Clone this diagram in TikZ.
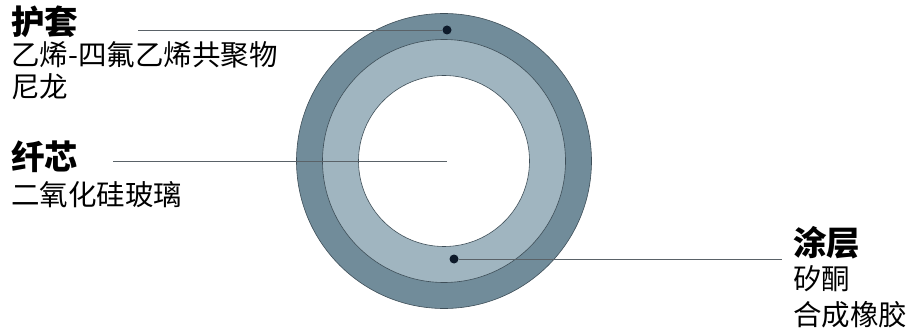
\documentclass[tikz,border=0pt]{standalone}
\usepackage{fontspec}
\newfontfamily\cjk{Noto Sans CJK SC}
\usepackage{xcolor}
\usepackage{tikz}
\usetikzlibrary{positioning}

\definecolor{jacketblue}{HTML}{718C9A}
\definecolor{coatblue}{HTML}{A0B5C0}
\definecolor{ringedge}{HTML}{3E4E58}
\definecolor{leadergrey}{HTML}{5A6268}
\definecolor{dotnavy}{HTML}{0E1A2A}

\begin{document}
\begin{tikzpicture}[
    x=1pt, y=-1pt,
    ring/.style={circle, draw=ringedge, line width=0.6pt, inner sep=0pt},
    title/.style={font=\cjk\bfseries\fontsize{33.5}{33.5}\selectfont, inner sep=0pt, anchor=base west},
    material/.style={font=\cjk\fontsize{28.5}{28.5}\selectfont, inner sep=0pt, anchor=base west},
    marker/.style={circle, fill=dotnavy, minimum size=9pt, inner sep=0pt},
    leader/.style={draw=leadergrey, line width=0.7pt}
]
\useasboundingbox (0,0) rectangle (911,334);

% Cross section
\node[ring, fill=jacketblue, minimum size=295pt] (jacket) at (444,161) {};
\node[ring, fill=coatblue, minimum size=243pt] (coating) at (444,161) {};
\node[ring, fill=white, minimum size=171pt] (core) at (444,161) {};

% Markers
\node[marker] (jacket_dot) at (447,30) {};
\coordinate (core_dot) at (447,161);
\node[marker] (coating_dot) at (454,259) {};

% Labels
\node[title] (jacket_title) at (11,35) {护套};
\node[material] (jacket_mat1) at (11,66) {乙烯-四氟乙烯共聚物};
\node[material] (jacket_mat2) at (11,98) {尼龙};

\node[title] (core_title) at (11,170) {纤芯};
\node[material] (core_mat) at (11,205) {二氧化硅玻璃};

\node[title] (coating_title) at (793,255) {涂层};
\node[material] (coating_mat1) at (793,289) {矽酮};
\node[material] (coating_mat2) at (793,325) {合成橡胶};

% Leader lines
\coordinate (jacket_end) at (138,30);
\coordinate (core_end) at (113,161);
\coordinate (coating_end) at (782,259);
\draw[leader] (jacket_end) -- (jacket_dot);
\draw[leader] (core_end) -- (core_dot);
\draw[leader] (coating_dot) -- (coating_end);

\end{tikzpicture}
\end{document}
